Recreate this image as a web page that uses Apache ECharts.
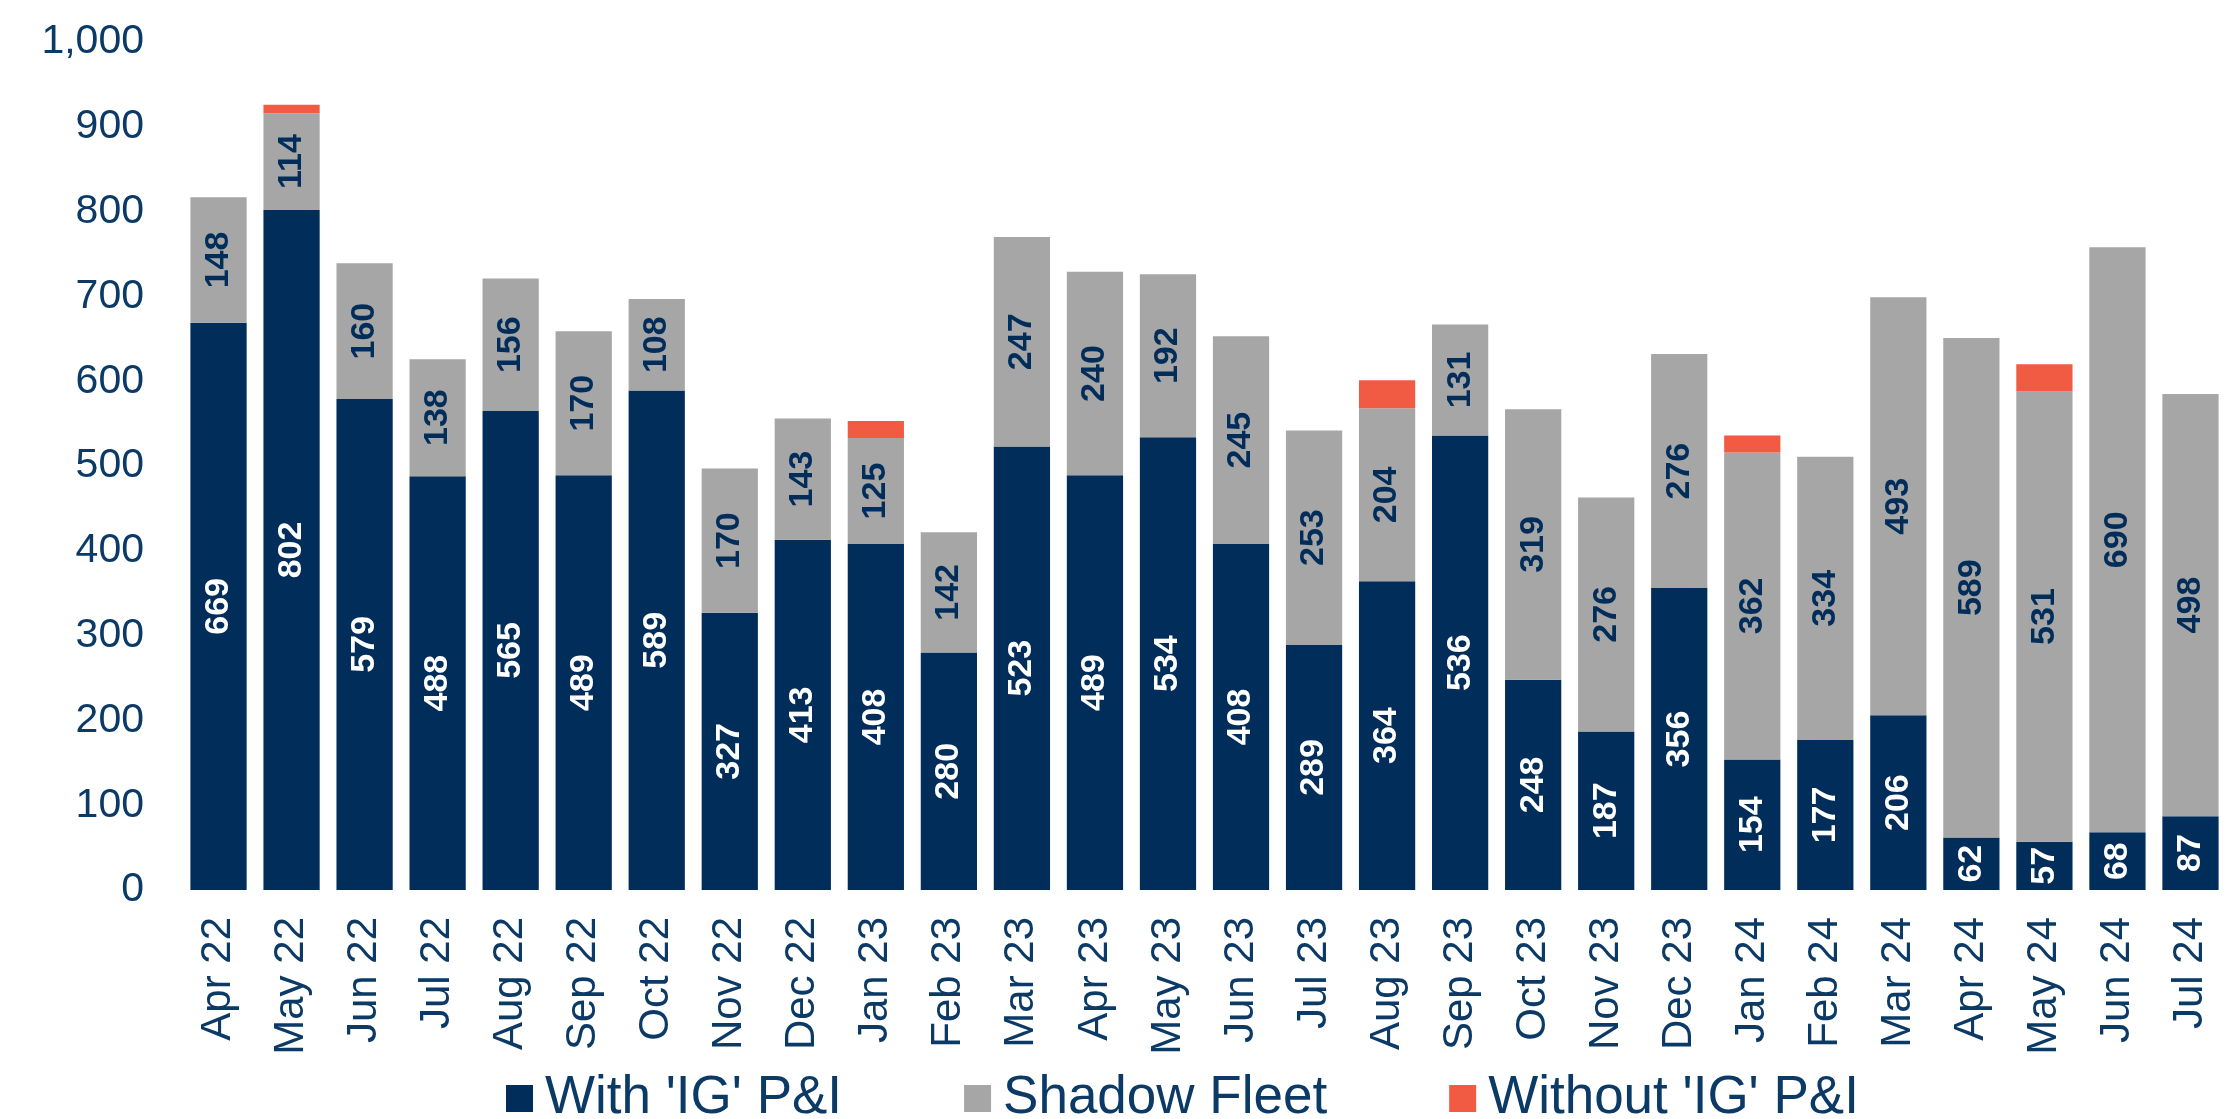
<!DOCTYPE html>
<html>
<head>
<meta charset="utf-8">
<script src="https://cdn.jsdelivr.net/npm/echarts@6/dist/echarts.min.js"></script>
<style>
html,body{margin:0;padding:0;background:#fff;}
#chart{width:2227px;height:1119px;}
</style>
</head>
<body>
<div id="chart"></div>
<script>
const categories = ["Apr 22","May 22","Jun 22","Jul 22","Aug 22","Sep 22","Oct 22","Nov 22","Dec 22","Jan 23","Feb 23","Mar 23","Apr 23","May 23","Jun 23","Jul 23","Aug 23","Sep 23","Oct 23","Nov 23","Dec 23","Jan 24","Feb 24","Mar 24","Apr 24","May 24","Jun 24","Jul 24"];
const withIG = [669,802,579,488,565,489,589,327,413,408,280,523,489,534,408,289,364,536,248,187,356,154,177,206,62,57,68,87];
const shadowFleet = [148,114,160,138,156,170,108,170,143,125,142,247,240,192,245,253,204,131,319,276,276,362,334,493,589,531,690,498];
const withoutIG = [0,10,0,0,0,0,0,0,0,20,0,0,0,0,0,0,33,0,0,0,0,20,0,0,0,32,0,0];
const yTicks = {min:0, max:1000, interval:100};

const navy = '#002D5A';
const textNavy = '#0B3A66';
const FONT = 'Liberation Sans, Arial, sans-serif';

const chart = echarts.init(document.getElementById('chart'));
chart.setOption({
  animation: false,
  grid: {left: 182, top: 42, width: 2052, bottom: 229, containLabel: false},
  legend: {
    top: 1067, left: 501,
    itemWidth: 27, itemHeight: 27, itemGap: 122,
    icon: 'rect',
    textStyle: {fontFamily: FONT, fontSize: 53, color: textNavy, padding: [0,0,0,7]},
    data: ["With 'IG' P&I", "Shadow Fleet", "Without 'IG' P&I"]
  },
  xAxis: {
    type: 'category', data: categories,
    axisLine: {show: false}, axisTick: {show: false},
    axisLabel: {rotate: 90, margin: 27, interval: 0, fontFamily: FONT, fontSize: 42, color: textNavy}
  },
  yAxis: {
    type: 'value', min: yTicks.min, max: yTicks.max, interval: yTicks.interval,
    splitLine: {show: false}, axisLine: {show: false}, axisTick: {show: false},
    axisLabel: {margin: 38, fontFamily: FONT, fontSize: 41, color: textNavy,
      formatter: v => v.toLocaleString('en-US')}
  },
  series: [
    {name: "With 'IG' P&I", type: 'bar', stack: 'a', data: withIG, barCategoryGap: '23%',
     itemStyle: {color: navy},
     label: {show: true, position: 'inside', rotate: 90, fontFamily: FONT, fontSize: 34, fontWeight: 'bold', color: '#fff'}},
    {name: "Shadow Fleet", type: 'bar', stack: 'a', data: shadowFleet,
     itemStyle: {color: '#A6A6A6'},
     label: {show: true, position: 'inside', rotate: 90, fontFamily: FONT, fontSize: 34, fontWeight: 'bold', color: navy}},
    {name: "Without 'IG' P&I", type: 'bar', stack: 'a', data: withoutIG,
     itemStyle: {color: '#F15B43'},
     label: {show: false}}
  ]
});
</script>
</body>
</html>
